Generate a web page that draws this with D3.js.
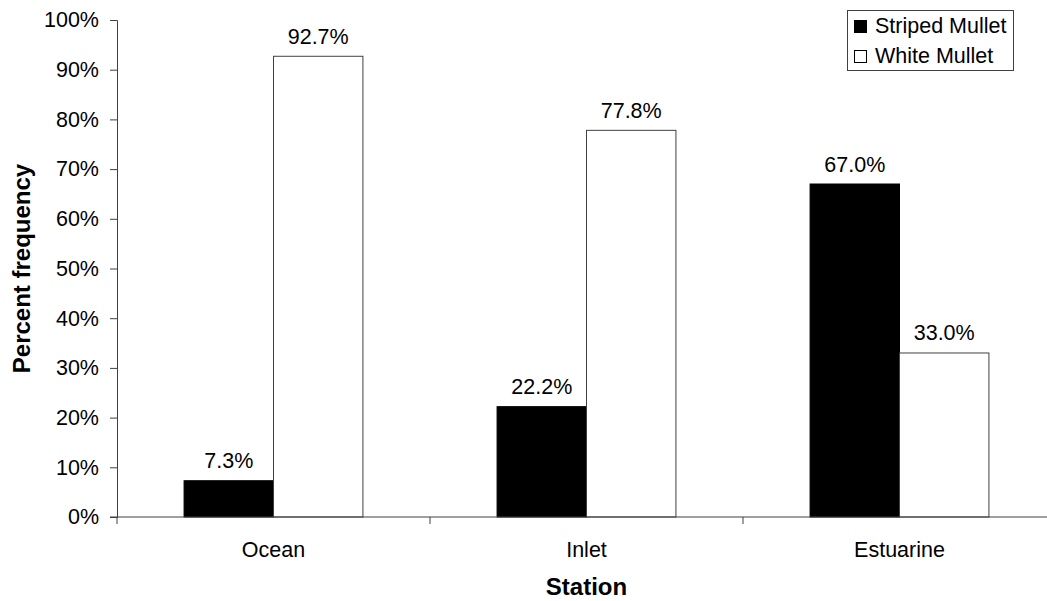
<!DOCTYPE html>
<html>
<head>
<meta charset="utf-8">
<script src="https://cdn.jsdelivr.net/npm/d3@7"></script>
<style>
  html, body { margin: 0; padding: 0; background: #fff; }
  text { font-family: "Liberation Sans", Arial, Helvetica, sans-serif; fill: #000; }
</style>
</head>
<body>
<svg id="chart" width="1047" height="601"></svg>
<script>
const categories = ["Ocean", "Inlet", "Estuarine"];
const seriesNames = ["Striped Mullet", "White Mullet"];
const stripedMullet = [7.3, 22.2, 67.0];
const whiteMullet = [92.7, 77.8, 33.0];
const yTicks = [0, 10, 20, 30, 40, 50, 60, 70, 80, 90, 100];
const seriesFill = ["#000000", "#ffffff"];

const svg = d3.select("#chart");
const mLeft = 117, mRight = 1056, mTop = 20, mBottom = 517;
const fs = "21.5px";

const x0 = d3.scaleBand().domain(categories).range([mLeft, mRight]);
const y = d3.scaleLinear().domain([0, 100]).range([mBottom, mTop]);

// 2 bars of width bw per category, gap 1.5 bw (gap width 150%)
const bw = x0.bandwidth() / 3.5;
const rows = categories.map((c, i) => ({cat: c, vals: [stripedMullet[i], whiteMullet[i]]}));

const g = svg.append("g");
rows.forEach(r => {
  r.vals.forEach((v, j) => {
    const xs = x0(r.cat) + 0.75 * bw + j * bw;
    g.append("rect")
      .attr("x", xs).attr("y", y(v))
      .attr("width", bw).attr("height", y(0) - y(v))
      .attr("fill", seriesFill[j])
      .attr("stroke", j === 0 ? "#000" : "#404040")
      .attr("stroke-width", 1);
    g.append("text")
      .attr("x", xs + bw / 2).attr("y", y(v) - 12.5)
      .attr("text-anchor", "middle")
      .style("font-size", fs)
      .text(v.toFixed(1) + "%");
  });
});

// y axis
const yAxis = d3.axisLeft(y).tickValues(yTicks).tickFormat(d => d + "%").tickSize(7).tickPadding(11);
const ya = svg.append("g").attr("transform", `translate(${mLeft},0)`).call(yAxis);
ya.select(".domain").attr("stroke", "#404040");
ya.selectAll(".tick line").attr("stroke", "#404040");
ya.selectAll(".tick text").style("font-size", fs).attr("fill", "#000").style("font-family", '"Liberation Sans", Arial, sans-serif');

// x axis
const xa = svg.append("g").attr("transform", `translate(0,${mBottom})`);
xa.append("line").attr("x1", mLeft - 7).attr("x2", mRight).attr("y1", 0).attr("y2", 0).attr("stroke", "#404040");
const bounds = categories.map(c => x0(c)).concat([mRight]);
bounds.forEach(b => {
  xa.append("line").attr("x1", b).attr("x2", b).attr("y1", 0).attr("y2", 7).attr("stroke", "#404040");
});
categories.forEach(c => {
  xa.append("text")
    .attr("x", x0(c) + x0.bandwidth() / 2).attr("y", 39.5)
    .attr("text-anchor", "middle")
    .style("font-size", fs)
    .text(c);
});

// axis titles
svg.append("text")
  .attr("x", (mLeft + mRight) / 2).attr("y", 595)
  .attr("text-anchor", "middle")
  .style("font-size", "24px").style("font-weight", "bold")
  .text("Station");
svg.append("text")
  .attr("transform", `translate(30,${(mTop + mBottom) / 2}) rotate(-90)`)
  .attr("text-anchor", "middle")
  .style("font-size", "24px").style("font-weight", "bold")
  .text("Percent frequency");

// legend
const lg = svg.append("g");
lg.append("rect").attr("x", 847.5).attr("y", 10.5).attr("width", 166).attr("height", 60)
  .attr("fill", "#fff").attr("stroke", "#404040");
seriesNames.forEach((s, i) => {
  const base = 33 + i * 30;
  lg.append("rect").attr("x", 854.5).attr("y", base - 12.5).attr("width", 12).attr("height", 12)
    .attr("fill", seriesFill[i]).attr("stroke", "#000");
  lg.append("text").attr("x", 875).attr("y", base)
    .style("font-size", fs).text(s);
});
</script>
</body>
</html>
